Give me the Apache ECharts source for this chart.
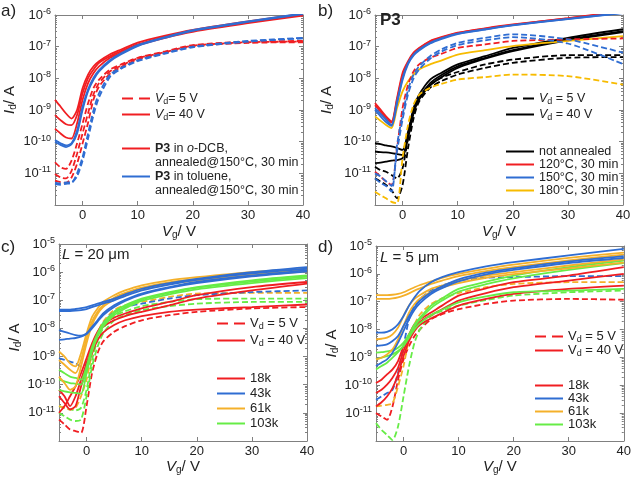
<!DOCTYPE html>
<html>
<head>
<meta charset="utf-8">
<script src="https://cdn.jsdelivr.net/npm/echarts@6/dist/echarts.min.js"></script>
<style>
  html, body { margin: 0; padding: 0; background: #fff; }
  #chart { width: 634px; height: 481px; }
</style>
</head>
<body>
<div id="chart"></div>
<script>
// gate voltage samples (V)
var X = [-5, -4, -3, -2, -1, 0, 1, 2, 3, 5, 7, 10, 15, 20, 30, 40];

// all curves below are log10(Id / A), one row per device

// a) P3, o-DCB (red) vs toluene (blue)
var aRed40 = [
  [-8.68, -8.89, -9.11, -9.27, -9.0, -8.31, -7.88, -7.62, -7.46, -7.24, -7.09, -6.87, -6.65, -6.47, -6.2, -5.96],
  [-9.16, -9.32, -9.45, -9.48, -9.16, -8.47, -7.99, -7.72, -7.51, -7.3, -7.14, -6.93, -6.69, -6.5, -6.23, -5.99],
  [-9.59, -9.74, -9.87, -9.9, -9.43, -8.68, -8.15, -7.83, -7.62, -7.35, -7.19, -6.96, -6.72, -6.53, -6.26, -6.02]
];
var aBlue40 = [
  [-10.01, -10.1, -10.17, -10.08, -9.75, -9.0, -8.41, -8.04, -7.78, -7.46, -7.24, -6.98, -6.72, -6.5, -6.22, -5.97],
  [-9.95, -10.05, -10.12, -10.05, -9.65, -8.9, -8.35, -7.98, -7.74, -7.42, -7.21, -6.95, -6.7, -6.48, -6.2, -5.95]
];
var aRed5 = [
  [-10.65, -10.81, -10.86, -10.6, -10.06, -9.43, -8.79, -8.3, -8.04, -7.72, -7.56, -7.35, -7.15, -6.95, -6.84, -6.82],
  [-11.02, -11.13, -11.16, -10.92, -10.38, -9.74, -9.1, -8.5, -8.15, -7.78, -7.6, -7.37, -7.17, -6.97, -6.86, -6.84],
  [-11.23, -11.28, -11.3, -11.13, -10.7, -10.06, -9.4, -8.66, -8.26, -7.85, -7.64, -7.4, -7.19, -6.99, -6.88, -6.86]
];
var aBlue5 = [
  [-11.29, -11.32, -11.29, -11.29, -11.0, -10.49, -9.74, -9.0, -8.47, -7.88, -7.67, -7.43, -7.2, -7.0, -6.82, -6.72],
  [-11.34, -11.36, -11.33, -11.3, -11.1, -10.6, -9.9, -9.15, -8.6, -7.95, -7.7, -7.46, -7.22, -7.02, -6.84, -6.74]
];

// b) P3, annealing temperature
var bBlack40 = [
  [-10.05, -10.08, -10.12, -10.15, -10.2, -10.26, -9.68, -8.94, -8.52, -8.04, -7.83, -7.56, -7.3, -7.04, -6.72, -6.45],
  [-10.31, -10.33, -10.34, -10.36, -10.39, -10.42, -9.78, -9.04, -8.62, -8.15, -7.9, -7.62, -7.35, -7.11, -6.77, -6.51],
  [-10.68, -10.66, -10.63, -10.6, -10.58, -10.52, -9.89, -9.1, -8.67, -8.22, -7.97, -7.67, -7.38, -7.14, -6.8, -6.54]
];
var bBlack5 = [
  [-10.79, -10.9, -10.95, -11.05, -11.16, -10.84, -9.89, -9.04, -8.62, -8.22, -7.99, -7.8, -7.56, -7.41, -7.27, -7.27],
  [-11.16, -11.26, -11.37, -11.53, -11.79, -11.37, -10.2, -9.26, -8.73, -8.3, -8.09, -7.88, -7.67, -7.51, -7.35, -7.33]
];
var bRed40 = [
  [-8.78, -8.99, -9.2, -9.36, -8.62, -7.83, -7.46, -7.19, -7.04, -6.82, -6.7, -6.56, -6.42, -6.3, -6.11, -5.89],
  [-8.85, -9.05, -9.25, -9.4, -8.68, -7.9, -7.5, -7.22, -7.06, -6.84, -6.72, -6.57, -6.43, -6.31, -6.1, -5.88]
];
var bRed5 = [
  [-10.95, -11.1, -11.26, -11.37, -10.21, -8.94, -8.2, -7.78, -7.56, -7.35, -7.23, -7.04, -6.93, -6.82, -6.77, -6.74]
];
var bBlue40 = [
  [-8.94, -9.12, -9.3, -9.47, -8.73, -7.99, -7.51, -7.25, -7.09, -6.88, -6.74, -6.59, -6.45, -6.32, -6.12, -5.93],
  [-9.0, -9.2, -9.38, -9.5, -8.8, -8.05, -7.55, -7.28, -7.12, -6.9, -6.76, -6.6, -6.46, -6.33, -6.13, -5.94]
];
var bBlue5 = [
  [-11.16, -11.3, -11.4, -11.58, -10.1, -9.15, -8.36, -7.88, -7.62, -7.3, -7.09, -6.88, -6.72, -6.61, -6.77, -7.19],
  [-11.0, -11.1, -11.25, -11.4, -10.3, -9.3, -8.5, -8.0, -7.72, -7.38, -7.16, -6.95, -6.8, -6.7, -6.9, -7.55]
];
var bGold40 = [
  [-9.2, -9.34, -9.47, -9.57, -8.94, -8.41, -8.09, -7.88, -7.72, -7.56, -7.44, -7.25, -7.11, -6.98, -6.82, -6.67]
];
var bGold5 = [
  [-11.58, -11.69, -11.79, -11.9, -11.95, -10.52, -9.47, -8.83, -8.52, -8.3, -8.18, -8.04, -7.96, -7.88, -7.93, -8.2]
];

// c) L = 20 um, molecular weight
var cRed40 = [
  [-10.18, -10.41, -10.76, -10.41, -9.82, -9.24, -8.65, -8.18, -7.94, -7.71, -7.56, -7.41, -7.18, -6.94, -6.65, -6.41],
  [-10.41, -10.65, -10.88, -10.76, -10.06, -9.47, -8.88, -8.41, -8.15, -7.88, -7.71, -7.56, -7.41, -7.33, -7.24, -7.15],
  [-11.0, -10.76, -10.41, -10.06, -9.59, -9.06, -8.53, -8.12, -7.85, -7.62, -7.47, -7.29, -7.06, -6.82, -6.53, -6.35]
];
var cRed5 = [
  [-11.24, -11.41, -11.59, -11.65, -11.71, -10.76, -9.59, -8.88, -8.47, -8.12, -7.92, -7.71, -7.53, -7.41, -7.29, -7.24]
];
var cBlue40 = [
  [-7.33, -7.33, -7.33, -7.31, -7.28, -7.24, -7.18, -7.12, -7.06, -6.94, -6.79, -6.59, -6.39, -6.24, -6.0, -5.82],
  [-7.38, -7.38, -7.38, -7.37, -7.35, -7.31, -7.24, -7.18, -7.12, -7.0, -6.85, -6.65, -6.44, -6.27, -6.04, -5.88],
  [-8.06, -8.12, -8.18, -8.24, -8.26, -8.18, -7.94, -7.71, -7.47, -7.18, -6.98, -6.76, -6.53, -6.35, -6.12, -5.94],
  [-8.41, -8.39, -8.36, -8.34, -8.29, -8.2, -8.0, -7.76, -7.53, -7.24, -7.02, -6.8, -6.56, -6.39, -6.15, -5.98]
];
var cBlue5 = [
  [-9.06, -9.12, -9.18, -9.24, -9.35, -9.24, -8.65, -8.18, -7.82, -7.41, -7.24, -7.12, -6.94, -6.82, -6.71, -6.65]
];
var cGold40 = [
  [-8.82, -9.0, -9.24, -9.35, -8.88, -8.18, -7.59, -7.29, -7.06, -6.82, -6.65, -6.47, -6.29, -6.18, -6.0, -5.88],
  [-9.12, -9.29, -9.47, -9.59, -9.12, -8.35, -7.76, -7.41, -7.18, -6.91, -6.74, -6.55, -6.36, -6.24, -6.06, -5.94],
  [-9.71, -9.94, -10.18, -10.06, -9.35, -8.53, -7.88, -7.49, -7.24, -6.98, -6.8, -6.61, -6.42, -6.29, -6.11, -5.98]
];
var cGold5 = [
  [-10.76, -10.82, -10.88, -10.82, -10.41, -9.82, -8.88, -8.18, -7.76, -7.35, -7.18, -7.06, -6.88, -6.76, -6.74, -6.74]
];
var cGreen40 = [
  [-9.47, -9.59, -9.71, -9.76, -9.82, -9.35, -8.65, -8.18, -7.82, -7.41, -7.18, -6.94, -6.71, -6.53, -6.29, -6.12],
  [-9.82, -9.88, -9.94, -9.96, -10.0, -9.47, -8.74, -8.24, -7.88, -7.47, -7.24, -6.98, -6.74, -6.56, -6.34, -6.16],
  [-10.18, -10.24, -10.27, -10.29, -10.32, -9.59, -8.82, -8.29, -7.94, -7.53, -7.29, -7.02, -6.79, -6.61, -6.39, -6.21]
];
var cGreen5 = [
  [-11.0, -11.12, -11.24, -11.29, -11.24, -10.41, -9.35, -8.65, -8.18, -7.71, -7.53, -7.35, -7.21, -7.12, -7.06, -7.06],
  [-10.76, -10.82, -10.88, -10.91, -10.82, -10.18, -9.12, -8.41, -8.0, -7.56, -7.39, -7.21, -7.06, -6.96, -6.94, -6.94]
];

// d) L = 5 um, molecular weight
var dRed40 = [
  [-9.92, -9.8, -9.61, -9.43, -9.13, -8.59, -8.17, -7.81, -7.63, -7.39, -7.14, -6.78, -6.52, -6.3, -6.06, -5.76],
  [-10.28, -10.16, -9.98, -9.73, -9.37, -8.77, -8.29, -7.93, -7.72, -7.48, -7.27, -6.96, -6.69, -6.48, -6.24, -6.0],
  [-10.76, -10.61, -10.4, -10.1, -9.61, -8.95, -8.41, -8.05, -7.83, -7.6, -7.41, -7.14, -6.9, -6.72, -6.54, -6.42]
];
var dRed5 = [
  [-11.0, -11.12, -11.24, -10.76, -9.8, -9.07, -8.59, -8.23, -7.99, -7.63, -7.45, -7.27, -7.08, -6.96, -6.9, -6.93]
];
var dBlue40 = [
  [-8.11, -8.11, -8.08, -7.99, -7.81, -7.51, -7.14, -6.84, -6.6, -6.3, -6.12, -5.94, -5.73, -5.58, -5.34, -5.1],
  [-8.59, -8.57, -8.53, -8.41, -8.23, -7.87, -7.51, -7.2, -6.96, -6.66, -6.45, -6.2, -5.96, -5.8, -5.55, -5.36],
  [-9.31, -9.19, -9.07, -8.83, -8.47, -8.05, -7.63, -7.29, -7.05, -6.72, -6.51, -6.27, -6.02, -5.86, -5.61, -5.43]
];
var dBlue5 = [
  [-10.52, -10.4, -10.28, -10.16, -9.55, -8.59, -7.63, -7.14, -6.9, -6.6, -6.42, -6.24, -6.14, -6.12, -6.08, -6.08]
];
var dGold40 = [
  [-6.76, -6.76, -6.76, -6.75, -6.72, -6.66, -6.57, -6.48, -6.4, -6.27, -6.14, -6.0, -5.82, -5.67, -5.43, -5.24],
  [-6.9, -6.9, -6.9, -6.88, -6.84, -6.78, -6.7, -6.6, -6.52, -6.36, -6.24, -6.08, -5.9, -5.76, -5.52, -5.31],
  [-8.35, -8.33, -8.29, -8.17, -7.93, -7.51, -7.14, -6.9, -6.76, -6.54, -6.42, -6.24, -6.06, -5.94, -5.7, -5.48],
  [-9.07, -9.01, -8.89, -8.71, -8.35, -7.87, -7.39, -7.08, -6.88, -6.64, -6.49, -6.33, -6.14, -6.01, -5.8, -5.6]
];
var dGold5 = [
  [-10.76, -10.73, -10.7, -10.64, -10.04, -9.31, -8.35, -7.81, -7.45, -7.08, -6.88, -6.69, -6.48, -6.36, -6.3, -6.3]
];
var dGreen40 = [
  [-8.83, -8.81, -8.78, -8.75, -8.65, -8.47, -8.17, -7.81, -7.57, -7.14, -6.88, -6.54, -6.28, -6.06, -5.76, -5.52],
  [-9.43, -9.31, -9.19, -9.01, -8.81, -8.57, -8.25, -7.89, -7.63, -7.23, -6.96, -6.64, -6.37, -6.16, -5.86, -5.61],
  [-9.07, -9.01, -8.95, -8.89, -8.77, -8.59, -8.29, -7.99, -7.77, -7.48, -7.29, -7.02, -6.81, -6.66, -6.6, -6.54]
];
var dGreen5 = [
  [-11.36, -11.6, -11.78, -11.96, -11.48, -10.4, -9.31, -8.47, -7.99, -7.51, -7.33, -7.14, -6.94, -6.78, -6.66, -6.6]
];

var RED = '#f01e22', BLUE = '#2f6dd2', GOLD = '#f7bb00', ORANGE = '#f4b02a', GREEN = '#66ec46', BLACK = '#000000';
var FONT = 'Liberation Sans, Arial, sans-serif';

var grids = [
  {left: 55, top: 15, width: 248, height: 190},
  {left: 375, top: 15, width: 248, height: 190},
  {left: 59, top: 244, width: 248, height: 197},
  {left: 376, top: 246, width: 248, height: 195}
];
var yMin = [1e-12, 1e-12, 1e-12, 1e-12];
var yMax = [1e-6, 1e-6, 1e-5, 1e-5];
var yNameGap = [37, 40, 34, 34];
var yNameShift = [20, 20, 10, 0];
var xNameGap = [18, 18, 11, 11];

var series = [];
function addCurves(rows, g, color, dashed) {
  rows.forEach(function (r) {
    series.push({
      type: 'line', xAxisIndex: g, yAxisIndex: g,
      symbol: 'none', smooth: 0.25, silent: true,
      lineStyle: {color: color, width: 1.8, type: dashed ? [6, 3] : 'solid'},
      itemStyle: {color: color},
      data: X.map(function (x, i) { return [x, Math.pow(10, r[i])]; })
    });
  });
}
addCurves(aRed5, 0, RED, true);
addCurves(aBlue5, 0, BLUE, true);
addCurves(aRed40, 0, RED, false);
addCurves(aBlue40, 0, BLUE, false);

addCurves(bBlack40, 1, BLACK, false);
addCurves(bBlack5, 1, BLACK, true);
addCurves(bGold5, 1, GOLD, true);
addCurves(bGold40, 1, GOLD, false);
addCurves(bRed5, 1, RED, true);
addCurves(bBlue5, 1, BLUE, true);
addCurves(bRed40, 1, RED, false);
addCurves(bBlue40, 1, BLUE, false);

addCurves(cRed5, 2, RED, true);
addCurves(cGreen5, 2, GREEN, true);
addCurves(cGold5, 2, ORANGE, true);
addCurves(cBlue5, 2, BLUE, true);
addCurves(cRed40, 2, RED, false);
addCurves(cGreen40, 2, GREEN, false);
addCurves(cGold40, 2, ORANGE, false);
addCurves(cBlue40, 2, BLUE, false);

addCurves(dRed5, 3, RED, true);
addCurves(dGreen5, 3, GREEN, true);
addCurves(dGold5, 3, ORANGE, true);
addCurves(dBlue5, 3, BLUE, true);
addCurves(dRed40, 3, RED, false);
addCurves(dGreen40, 3, GREEN, false);
addCurves(dGold40, 3, ORANGE, false);
addCurves(dBlue40, 3, BLUE, false);

// legend-only series (no data)
var SOLID = 'path://M0,0H28V2H0Z';
var DASH = 'path://M0,0H11V2H0ZM17,0H28V2H17Z';
var legendText = {};
function legendSeries(name, g, color, text) {
  legendText[name] = text;
  series.push({type: 'line', name: name, xAxisIndex: g, yAxisIndex: g, data: [],
    itemStyle: {color: color}, lineStyle: {color: color}});
}
legendSeries('a5', 0, RED, '{i|V}{sub|d}{t|= 5 V}');
legendSeries('a40', 0, RED, '{i|V}{sub|d}{t|= 40 V}');
legendSeries('aDCB', 0, RED, '{b|P3}{t| in }{i|o}{t|-DCB,}');
legendSeries('aDCB2', 0, 'rgba(0,0,0,0)', '{t|annealed@150°C, 30 min}');
legendSeries('aTol', 0, BLUE, '{b|P3}{t| in toluene,}');
legendSeries('aTol2', 0, 'rgba(0,0,0,0)', '{t|annealed@150°C, 30 min}');
legendSeries('b5', 1, BLACK, '{i|V}{sub|d}{t| = 5 V}');
legendSeries('b40', 1, BLACK, '{i|V}{sub|d}{t| = 40 V}');
legendSeries('bNA', 1, BLACK, '{t|not annealed}');
legendSeries('b120', 1, RED, '{t|120°C, 30 min}');
legendSeries('b150', 1, BLUE, '{t|150°C, 30 min}');
legendSeries('b180', 1, GOLD, '{t|180°C, 30 min}');
['c', 'd'].forEach(function (p, k) {
  var g = k + 2;
  legendSeries(p + '5', g, RED, '{t|V}{sub|d}{t| = 5 V}');
  legendSeries(p + '40', g, RED, '{t|V}{sub|d}{t| = 40 V}');
  legendSeries(p + '18', g, RED, '{t|18k}');
  legendSeries(p + '43', g, BLUE, '{t|43k}');
  legendSeries(p + '61', g, ORANGE, '{t|61k}');
  legendSeries(p + '103', g, GREEN, '{t|103k}');
});

function legendRich(fs) {
  return {
    t: {fontSize: fs, fontFamily: FONT, color: '#222', lineHeight: 15},
    i: {fontSize: fs, fontFamily: FONT, color: '#222', fontStyle: 'italic', lineHeight: 15},
    b: {fontSize: fs, fontFamily: FONT, color: '#222', fontWeight: 'bold', lineHeight: 15},
    sub: {fontSize: 9, fontFamily: FONT, color: '#222', verticalAlign: 'bottom', lineHeight: 9}
  };
}
function makeLegend(left, top, gap, fs, items) {
  return {
    orient: 'vertical', left: left, top: top, padding: 0, itemGap: gap,
    itemWidth: 28, itemHeight: 2, symbolKeepAspect: false, selectedMode: false,
    data: items.map(function (it) { return {name: it[0], icon: it[1]}; }),
    formatter: function (n) { return legendText[n]; },
    textStyle: {rich: legendRich(fs)}
  };
}
var legends = [
  makeLegend(122, 92, 2, 12.5, [['a5', DASH], ['a40', SOLID]]),
  makeLegend(122, 142, 1, 12.5, [['aDCB', SOLID], ['aDCB2', SOLID], ['aTol', SOLID], ['aTol2', SOLID]]),
  makeLegend(506, 92, 2, 12.5, [['b5', DASH], ['b40', SOLID]]),
  makeLegend(506, 145, 0, 12.5, [['bNA', SOLID], ['b120', SOLID], ['b150', SOLID], ['b180', SOLID]]),
  makeLegend(217, 317, 3, 13, [['c5', DASH], ['c40', SOLID]]),
  makeLegend(217, 372, 2, 13, [['c18', SOLID], ['c43', SOLID], ['c61', SOLID], ['c103', SOLID]]),
  makeLegend(535, 330, 0, 13, [['d5', DASH], ['d40', SOLID]]),
  makeLegend(535, 379, 0, 13, [['d18', SOLID], ['d43', SOLID], ['d61', SOLID], ['d103', SOLID]])
];

var FRAME = '#808080';
var xAxes = [], yAxes = [];
grids.forEach(function (gr, g) {
  xAxes.push({
    type: 'value', gridIndex: g, min: -5, max: 40, splitNumber: 5, minInterval: 10, maxInterval: 10,
    axisLine: {show: true, onZero: false, lineStyle: {color: FRAME}},
    axisTick: {inside: true, length: 4, lineStyle: {color: FRAME}},
    splitLine: {show: false},
    axisLabel: {margin: 4, fontSize: 13, fontFamily: FONT, color: '#222', showMinLabel: false},
    name: '{i|V}{sub|g}{t|/ V}', nameLocation: 'middle', nameGap: xNameGap[g],
    nameTextStyle: {rich: {
      t: {fontSize: 15, fontFamily: FONT, color: '#222', lineHeight: 17},
      i: {fontSize: 15, fontFamily: FONT, color: '#222', fontStyle: 'italic', lineHeight: 17},
      sub: {fontSize: 10, fontFamily: FONT, color: '#222', verticalAlign: 'bottom', lineHeight: 10}
    }}
  });
  yAxes.push({
    type: 'log', logBase: 10, gridIndex: g, min: yMin[g], max: yMax[g],
    axisLine: {show: true, onZero: false, lineStyle: {color: FRAME}},
    axisTick: {inside: true, length: 4, lineStyle: {color: FRAME}},
    minorTick: {show: true, splitNumber: 9, length: 2, lineStyle: {color: FRAME}},
    splitLine: {show: false},
    axisLabel: {
      margin: 4,
      formatter: function (v) {
        var e = Math.log10(v), r = Math.round(e);
        if (Math.abs(e - r) > 0.01 || r <= -12) return '';
        return '{b|10}{s|' + r + '}';
      },
      rich: {
        b: {fontSize: 13, fontFamily: FONT, color: '#222', lineHeight: 16},
        s: {fontSize: 9, fontFamily: FONT, color: '#222', lineHeight: 8, verticalAlign: 'top'}
      }
    },
    name: '{i|I}{sub|d}{t|/ A}', nameLocation: 'middle', nameGap: yNameGap[g], nameRotate: 90,
    nameTextStyle: {padding: [0, 0, 0, yNameShift[g]], rich: {
      t: {fontSize: 15, fontFamily: FONT, color: '#222', lineHeight: 17},
      i: {fontSize: 15, fontFamily: FONT, color: '#222', fontStyle: 'italic', lineHeight: 17},
      sub: {fontSize: 10, fontFamily: FONT, color: '#222', verticalAlign: 'bottom', lineHeight: 10}
    }}
  });
});
// mirrored frame axes (top / right)
grids.forEach(function (gr, g) {
  xAxes.push({
    type: 'value', gridIndex: g, position: 'top', min: -5, max: 40, splitNumber: 5, minInterval: 10, maxInterval: 10,
    axisLine: {show: true, onZero: false, lineStyle: {color: FRAME}},
    axisTick: {inside: true, length: 4, lineStyle: {color: FRAME}},
    axisLabel: {show: false}, splitLine: {show: false}
  });
  yAxes.push({
    type: 'log', logBase: 10, gridIndex: g, position: 'right', min: yMin[g], max: yMax[g],
    axisLine: {show: true, onZero: false, lineStyle: {color: FRAME}},
    axisTick: {inside: true, length: 4, lineStyle: {color: FRAME}},
    minorTick: {show: true, splitNumber: 9, length: 2, lineStyle: {color: FRAME}},
    axisLabel: {show: false}, splitLine: {show: false}
  });
});

var plainText = {fontSize: 15, fontFamily: FONT, color: '#222', fontWeight: 'normal'};
var italicText = {fontSize: 15, fontFamily: FONT, color: '#222', fontWeight: 'normal', fontStyle: 'italic'};
var panelLabel = {fontSize: 17, fontWeight: 'normal', fontFamily: FONT, color: '#222'};

var chart = echarts.init(document.getElementById('chart'));
chart.setOption({
  animation: false,
  backgroundColor: '#fff',
  title: [
    {text: 'a)', left: 1, top: 3, padding: 0, textStyle: panelLabel},
    {text: 'b)', left: 318, top: 3, padding: 0, textStyle: panelLabel},
    {text: 'c)', left: 1, top: 239, padding: 0, textStyle: panelLabel},
    {text: 'd)', left: 318, top: 239, padding: 0, textStyle: panelLabel},
    {text: 'P3', left: 380, top: 12, padding: 0, textStyle: {fontSize: 17, fontWeight: 'bold', fontFamily: FONT, color: '#222'}},
    {text: '{i|L}{t| = 20 μm}', left: 62, top: 247, padding: 0,
      textStyle: {fontWeight: 'normal', rich: {t: plainText, i: italicText}}},
    {text: '{i|L}{t| = 5 μm}', left: 380, top: 250, padding: 0,
      textStyle: {fontWeight: 'normal', rich: {t: plainText, i: italicText}}}
  ],
  grid: grids,
  legend: legends,
  xAxis: xAxes,
  yAxis: yAxes,
  series: series
});
</script>
</body>
</html>
